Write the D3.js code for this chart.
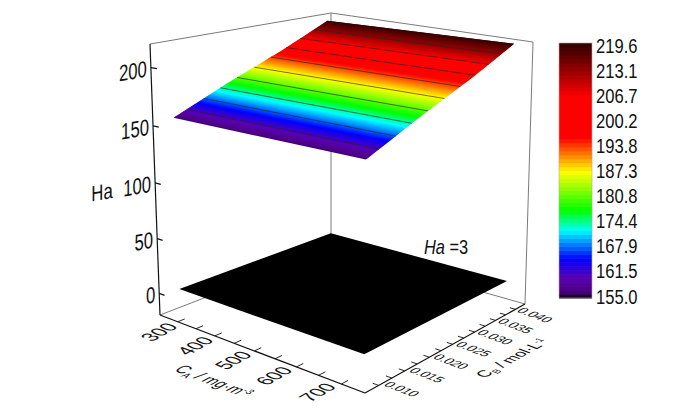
<!DOCTYPE html>
<html><head><meta charset="utf-8">
<script src="https://cdnjs.cloudflare.com/ajax/libs/d3/7.8.5/d3.min.js"></script>
<style>html,body{margin:0;padding:0;background:#fff}svg{display:block}text{font-family:"Liberation Sans",Arial,sans-serif;fill:#111}</style>
</head><body><svg id="c" width="700" height="415"></svg>
<script>
// ---- data ----
const caValues=[325,775];
const cbValues=[0.007,0.012,0.017,0.0225,0.028,0.033,0.038];
const haSurface=[156.5,167,177.5,188,198.5,209,219.6];
const haFlat=3;
const caMajor=[300,400,500,600,700];
const caAllTicks=[350,400,450,500,550,600,650,700,750];
const cbMajor=[0.010,0.015,0.020,0.025,0.030,0.035,0.040];
const cbAllTicks=[0.0075,0.010,0.0125,0.015,0.0175,0.020,0.0225,0.025,0.0275,0.030,0.0325,0.035,0.0375];
const zTicks=[0,50,100,150,200];
const barLabels=["219.6","213.1","206.7","200.2","193.8","187.3","180.8","174.4","167.9","161.5","155.0"];
const contourLevels=[161.5,167.9,174.4,180.8,187.3,193.8,200.2,206.7,213.1];
const colorStops=[0,0.025,0.08,0.156,0.267,0.345,0.495,0.63,0.79,0.89,1];
const colorValues=["#000000","#4a0080","#5a00b0","#0000ff","#00ffff","#00ff00","#ffff00","#ff0000","#ff0000","#990000","#300000"];

// ---- view box ----
const bottomQuad=[[160,315],[365,393],[525,304],[331,249]];
const topQuad=[[150,44],[368,80],[533,42],[331,13]];
const sheetTopQuad=[[150,44],[368,80],[534,43],[327,18]];
const persp=1.05;
function homography(q){
  const [[x0,y0],[x1,y1],[x2,y2],[x3,y3]]=q;
  const dx1=x1-x2,dx2=x3-x2,sx=x0-x1+x2-x3,dy1=y1-y2,dy2=y3-y2,sy=y0-y1+y2-y3;
  const den=dx1*dy2-dx2*dy1,g=(sx*dy2-dx2*sy)/den,h=(dx1*sy-sx*dy1)/den;
  const a=x1-x0+g*x1,b=x3-x0+h*x3,d=y1-y0+g*y1,e=y3-y0+h*y3;
  return (u,v)=>{const w=g*u+h*v+1;return [(a*u+b*v+x0)/w,(d*u+e*v+y0)/w];};
}
const Hb=homography(bottomQuad),Ht=homography(topQuad),Hs=homography(sheetTopQuad);
const xS=d3.scaleLinear().domain([300,800]).range([0,1]);
const yS=d3.scaleLinear().domain([0.005,0.040]).range([0,1]);
const zS=d3.scaleLinear().domain([-20,220]).range([0,1]);
function raw(u,v,w,H){
  const t=w/(w+(1-w)*persp),b=Hb(u,v),a=(H||Ht)(u,v);
  return [b[0]+(a[0]-b[0])*t,b[1]+(a[1]-b[1])*t];
}
const P=(ca,cb,z)=>raw(xS(ca),yS(cb),zS(z),Hs);
const color=d3.scaleLinear().domain(colorStops.map(s=>155+s*64.6)).range(colorValues).interpolate(d3.interpolateRgb);

const svg=d3.select("#c");
const line=d3.line();
const wall=svg.append("g").attr("fill","none").attr("stroke","#7a7a7a").attr("stroke-width",1);
[[[0,0,0],[0,1,0]],[[0,1,0],[1,1,0]],[[0,0,1],[0,1,1]],[[0,1,1],[1,1,1]],[[0,1,0],[0,1,1]],[[1,1,0],[1,1,1]]]
 .forEach(s=>wall.append("path").attr("d",line(s.map(p=>raw(...p)))));

// flat Ha = 3 sheet
const corner=[[caValues[0],cbValues[0]],[caValues[1],cbValues[0]],[caValues[1],cbValues[6]],[caValues[0],cbValues[6]]];
svg.append("polygon").attr("fill","#000").attr("points",corner.map(c=>P(c[0],c[1],haFlat).join(",")).join(" "));

// coloured sheet: thin strips between neighbouring levels, each overlapping the next
const cbOf=d3.scaleLinear().domain(haSurface).range(cbValues);
const nBands=128,levels=d3.range(nBands+1).map(i=>haSurface[0]+(haSurface[6]-haSurface[0])*i/nBands);
const sheet=svg.append("g");
levels.slice(0,-1).forEach((l,i)=>{
  const hi=levels[Math.min(i+2,nBands)];
  const a=cbOf(l),b=cbOf(hi);
  sheet.append("polygon").attr("fill",color(l)).attr("points",[
    P(caValues[0],a,l),P(caValues[1],a,l),P(caValues[1],b,hi),P(caValues[0],b,hi)
  ].map(p=>p.join(",")).join(" "));
});
contourLevels.forEach(l=>{
  const cb=cbOf(l);
  svg.append("path").attr("fill","none").attr("stroke","#222").attr("stroke-opacity",.8).attr("stroke-width",.8)
    .attr("d",line([P(caValues[0],cb,l),P(caValues[1],cb,l)]));
});

// axes
const ax=svg.append("g").attr("fill","none").attr("stroke","#111").attr("stroke-width",1.2);
[[[0,0,0],[1,0,0]],[[1,0,0],[1,1,0]],[[0,0,0],[0,0,1]]].forEach(s=>ax.append("path").attr("d",line(s.map(p=>raw(...p)))));
caAllTicks.forEach(c=>ax.append("path").attr("stroke-width",.9).attr("d",line([raw(xS(c),0,0),raw(xS(c),.035,0)])));
cbAllTicks.forEach(c=>ax.append("path").attr("stroke-width",.9).attr("d",line([raw(1,yS(c),0),raw(.975,yS(c),0)])));
zTicks.forEach(z=>ax.append("path").attr("d",line([raw(0,0,zS(z)),raw(.03,0,zS(z))])));

function label(parent,txt,x,y,dir,up,sx,sy,anchor){
  const t=parent.append("text").attr("font-size",20).attr("text-anchor",anchor||"middle")
    .attr("transform",`matrix(${dir[0]*sx/20},${dir[1]*sx/20},${-up[0]*sy/20},${-up[1]*sy/20},${x},${y})`)
    .attr("y",7);
  if(txt!=null)t.text(txt);
  return t;
}
const dirA=[.934,.357],dirB=[.874,-.486],dirW=[.985,-.17],upB=[-.934,-.357];
const g=svg.append("g");
caMajor.forEach(c=>{const p=raw(xS(c),0,0);label(g,String(c),p[0]-1,p[1]+17,dirB,upB,18.5,20);});
cbMajor.forEach(c=>{const p=raw(1,yS(c),0);label(g,c.toFixed(3),p[0]+10,p[1]+11,dirA,dirB,13,13);});
zTicks.forEach(z=>{const p=raw(0,0,zS(z));label(g,String(z),p[0]-4,p[1]+1,dirW,[0,-1],17,23,"end");});
label(g,"Ha",102,192,dirW,[0,-1],17,22);

const tA=label(g,null,214,381,dirA,dirB,15,18);
tA.append("tspan").text("C");tA.append("tspan").attr("dy",4).attr("font-size",12).text("A");
tA.append("tspan").attr("dy",-4).text(" / mg·m");tA.append("tspan").attr("dy",-7).attr("font-size",12).text("-3");
const tB=label(g,null,512,358,dirB,upB,15,16);
tB.append("tspan").text("C");tB.append("tspan").attr("dy",4).attr("font-size",12).text("B");
tB.append("tspan").attr("dy",-4).text(" / mol·L");tB.append("tspan").attr("dy",-7).attr("font-size",12).text("-1");

const h=svg.append("text").attr("transform","translate(424,254) scale(.82,1)").attr("font-size",20);
h.append("tspan").attr("font-style","italic").text("Ha");h.append("tspan").text(" =3");

// colour bar
const barY=d3.scaleLinear().domain([155,219.6]).range([298,43]);
const bar=svg.append("g");
const nBar=64;
d3.range(nBar).forEach(i=>{
  const a=155+64.6*i/nBar,b=155+64.6*(i+1)/nBar;
  bar.append("rect").attr("x",559).attr("width",33).attr("y",barY(b)).attr("height",barY(a)-barY(b)+.6).attr("fill",color((a+b)/2));
});
bar.append("rect").attr("x",559).attr("y",43).attr("width",33).attr("height",255).attr("fill","none").attr("stroke","#b9a6ad").attr("stroke-width",.6);
const labY=d3.scaleLinear().domain([0,10]).range([45,296]);
barLabels.forEach((s,i)=>{
  g.append("text").attr("font-size",21).attr("transform",`translate(596,${labY(i)+7.5}) scale(.79,1)`).text(s);
});
</script></body></html>
